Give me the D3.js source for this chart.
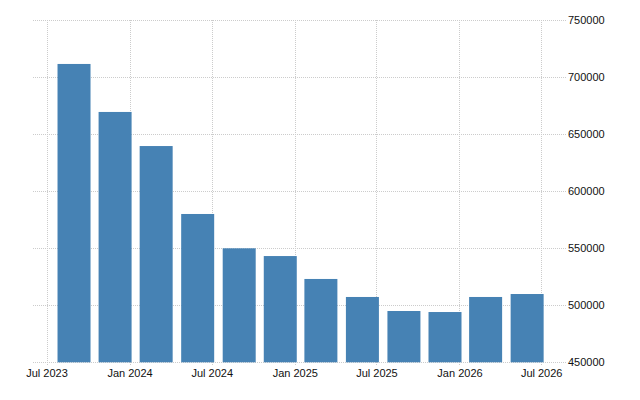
<!DOCTYPE html>
<html>
<head>
<meta charset="utf-8">
<script src="https://cdn.jsdelivr.net/npm/d3@7"></script>
<style>
  body { margin: 0; background: #fff; }
  svg { display: block; font-family: "Liberation Sans", Arial, sans-serif; }
</style>
</head>
<body>
<svg id="chart" width="640" height="400"></svg>
<script>
// quarterly values, one bar per quarter
const periods = ['2023-09', '2023-12', '2024-03', '2024-06', '2024-09', '2024-12',
  '2025-03', '2025-06', '2025-09', '2025-12', '2026-03', '2026-06'];
const values = [711700, 669600, 639700, 580100, 550000, 543200,
  523100, 507300, 495000, 494100, 507300, 509900];
const xTicks = ['2023-07', '2024-01', '2024-07', '2025-01', '2025-07', '2026-01', '2026-07'];
const yTicks = [450000, 500000, 550000, 600000, 650000, 700000, 750000];

const parse = d3.timeParse('%Y-%m');
const data = periods.map((p, i) => ({ date: parse(p), value: values[i] }));

const svg = d3.select('#chart');

const x = d3.scaleTime()
  .domain([new Date(2023, 5, 1), new Date(2026, 7, 25)])
  .range([33, 566]);

const y = d3.scaleLinear()
  .domain([450000, 750000])
  .range([362.3, 20.3]);

const grid = '#cccccc';

// horizontal grid + right labels
const yAxis = svg.append('g')
  .attr('transform', 'translate(566,0)')
  .call(d3.axisRight(y).tickValues(yTicks).tickSize(0).tickPadding(2).tickFormat(d3.format('d')));
yAxis.select('.domain').remove();
yAxis.selectAll('text').attr('fill', '#111').attr('font-size', 11)
  .attr('font-family', '"Liberation Sans", Arial, sans-serif');

svg.append('g')
  .selectAll('line')
  .data(yTicks)
  .join('line')
  .attr('x1', 33)
  .attr('x2', 566)
  .attr('y1', (d) => Math.round(y(d)) + 0.5)
  .attr('y2', (d) => Math.round(y(d)) + 0.5)
  .attr('stroke', grid)
  .attr('stroke-dasharray', '1,1');

// vertical grid + bottom labels
const tickDates = xTicks.map(parse);
svg.append('g')
  .selectAll('line')
  .data(tickDates)
  .join('line')
  .attr('x1', (d) => Math.round(x(d)) + 0.5)
  .attr('x2', (d) => Math.round(x(d)) + 0.5)
  .attr('y1', 20)
  .attr('y2', 366)
  .attr('stroke', grid)
  .attr('stroke-dasharray', '1,1');

const xAxis = svg.append('g')
  .attr('transform', 'translate(0,366)')
  .call(d3.axisBottom(x).tickValues(tickDates).tickSize(0).tickPadding(3).tickFormat(d3.timeFormat('%b %Y')));
xAxis.select('.domain').remove();
xAxis.selectAll('text').attr('fill', '#111').attr('font-size', 11)
  .attr('font-family', '"Liberation Sans", Arial, sans-serif');

// bars
const barW = 33;
svg.append('g')
  .selectAll('rect')
  .data(data)
  .join('rect')
  .attr('x', (d) => x(d.date) - barW / 2 - 0.5)
  .attr('width', barW)
  .attr('y', (d) => y(d.value))
  .attr('height', (d) => y(450000) - y(d.value))
  .attr('fill', '#4682b4');
</script>
</body>
</html>
